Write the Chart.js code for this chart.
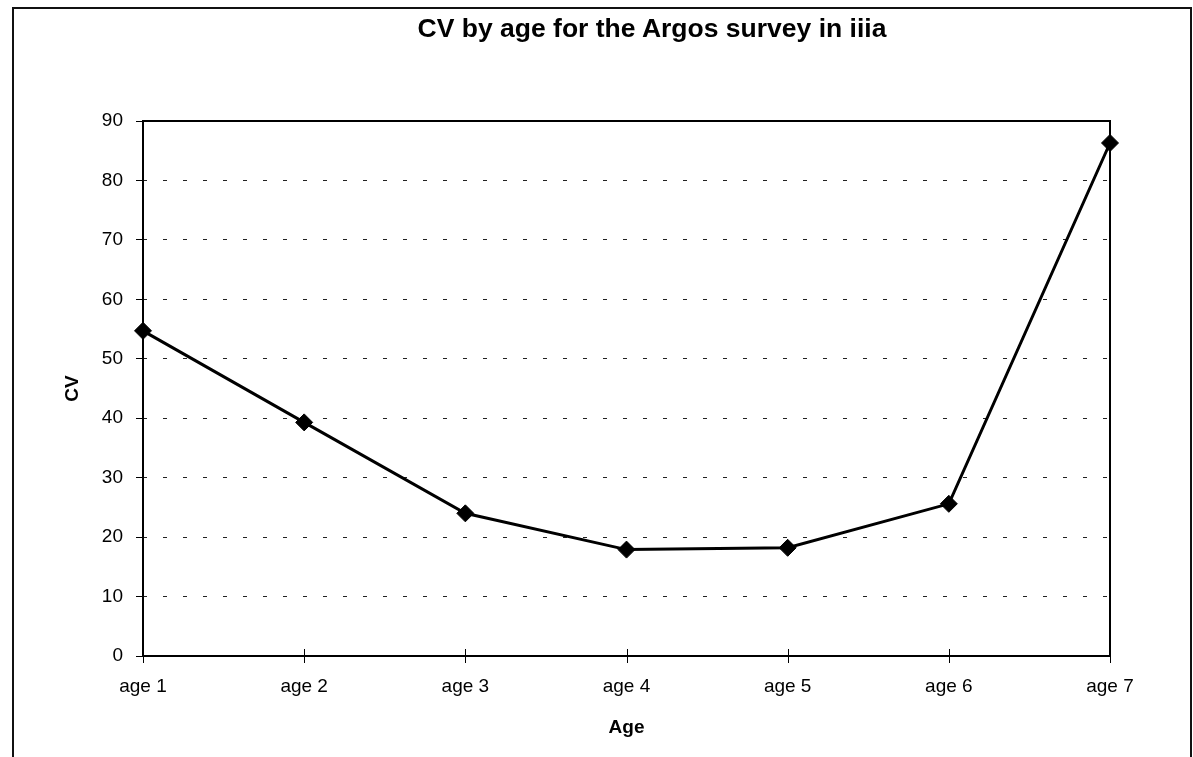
<!DOCTYPE html>
<html>
<head>
<meta charset="utf-8">
<title>CV by age</title>
<script src="https://cdn.jsdelivr.net/npm/chart.js@4"></script>
<style>
  body { margin: 0; background: #fff; }
  .cerceve {
    position: absolute;
    left: 12px;
    top: 7px;
    width: 1176px;
    height: 760px;
    border-top: 2px solid #111;
    border-left: 2px solid #111;
    border-right: 2px solid #111;
  }
  .baslik {
    position: absolute;
    left: 352px;
    top: 15px;
    width: 600px;
    text-align: center;
    font: bold 26.5px "Liberation Sans", Arial, sans-serif;
    line-height: 26px;
    color: #000;
    white-space: nowrap;
  }
  .chart-box {
    position: absolute;
    left: 0;
    top: 0;
    width: 1193px;
    height: 757px;
  }
</style>
</head>
<body>
<div class="cerceve"></div>
<div class="chart-box"><canvas id="cvGrafik" width="1193" height="757"></canvas></div>
<div class="baslik">CV by age for the Argos survey in iiia</div>

<script>
// Grafik verileri
const yaslar = ["age 1", "age 2", "age 3", "age 4", "age 5", "age 6", "age 7"];
const cvDegerleri = [54.7, 39.3, 24.0, 17.9, 18.2, 25.6, 86.3];
const yEksenEtiketleri = [0, 10, 20, 30, 40, 50, 60, 70, 80, 90];

const yaziTipi = "'Liberation Sans', Arial, sans-serif";

// Çizim alanının etrafına düz siyah çerçeve ve x ekseni çentikleri
const alanCercevesi = {
  id: "alanCercevesi",
  afterDraw(chart) {
    const { ctx, chartArea } = chart;
    const xEkseni = chart.scales.x;
    ctx.save();
    ctx.strokeStyle = "#000";
    ctx.lineWidth = 2;
    ctx.strokeRect(
      chartArea.left,
      chartArea.top,
      chartArea.right - chartArea.left,
      chartArea.bottom - chartArea.top
    );
    ctx.lineWidth = 1;
    ctx.beginPath();
    for (let i = 0; i < yaslar.length; i++) {
      const x = Math.round(xEkseni.getPixelForTick(i)) + 0.5;
      ctx.moveTo(x, chartArea.bottom - 7);
      ctx.lineTo(x, chartArea.bottom + 7);
    }
    ctx.stroke();
    ctx.restore();
  },
};

const ctx = document.getElementById("cvGrafik").getContext("2d");

new Chart(ctx, {
  type: "line",
  data: {
    labels: yaslar,
    datasets: [
      {
        label: "CV",
        data: cvDegerleri,
        borderColor: "#000",
        backgroundColor: "#000",
        borderWidth: 3,
        tension: 0,
        pointStyle: "rectRot",
        pointRadius: 8.5,
        pointBorderWidth: 1,
        pointBackgroundColor: "#000",
        pointBorderColor: "#000",
      },
    ],
  },
  options: {
    responsive: false,
    animation: false,
    layout: {
      padding: { top: 121, right: 83, left: 0, bottom: 0 },
    },
    plugins: {
      legend: { display: false },
      title: { display: false },
      tooltip: { enabled: false },
    },
    scales: {
      x: {
        offset: false,
        grid: { display: false, drawTicks: false },
        border: { display: false },
        ticks: {
          color: "#000",
          font: { family: yaziTipi, size: 19 },
          padding: 19,
          maxRotation: 0,
          autoSkip: false,
        },
        title: {
          display: true,
          text: "Age",
          color: "#000",
          font: { family: yaziTipi, size: 19, weight: "bold" },
          padding: { top: 0, bottom: 18 },
        },
        afterFit(scale) {
          scale.height = 101;
        },
      },
      y: {
        min: 0,
        max: 90,
        afterBuildTicks(scale) {
          scale.ticks = yEksenEtiketleri.map((v) => ({ value: v }));
        },
        grid: {
          color: "#222",
          lineWidth: 1,
          tickLength: 7,
          tickColor: "#000",
          tickBorderDash: [],
        },
        border: { display: false, dash: [4, 16] },
        ticks: {
          color: "#000",
          font: { family: yaziTipi, size: 19 },
          padding: 13,
        },
        title: {
          display: true,
          text: "CV",
          color: "#000",
          font: { family: yaziTipi, size: 19, weight: "bold" },
          padding: { top: 61, bottom: 0 },
        },
        afterFit(scale) {
          scale.width = 143;
        },
      },
    },
  },
  plugins: [alanCercevesi],
});
</script>
</body>
</html>
